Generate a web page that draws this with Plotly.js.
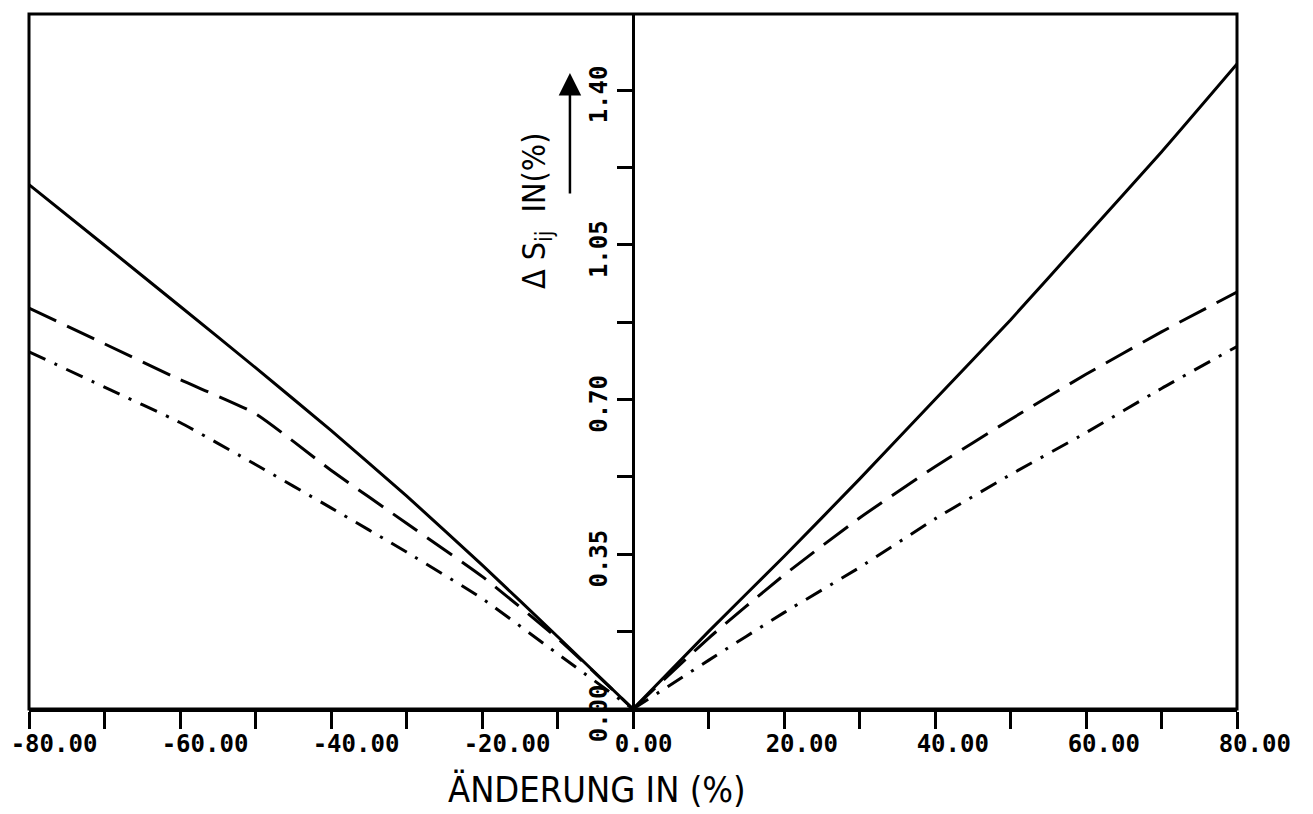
<!DOCTYPE html>
<html>
<head>
<meta charset="utf-8">
<script src="https://cdn.plot.ly/plotly-3.0.1.min.js"></script>
<style>html,body{margin:0;padding:0;background:#fff;}</style>
</head>
<body>
<div id="chart" style="width:1313px;height:814px;"></div>
<script>
// Data
const changePct = [-80, -70, -60, -50, -40, -30, -20, -10, 0, 10, 20, 30, 40, 50, 60, 70, 80];
const solidSeries   = [1.186, 1.049, 0.911, 0.772, 0.630, 0.482, 0.326, 0.164, 0, 0.175, 0.345, 0.52, 0.70, 0.88, 1.07, 1.26, 1.459];
const dashedSeries  = [0.907, 0.826, 0.745, 0.668, 0.54, 0.42, 0.30, 0.16, 0, 0.160, 0.303, 0.432, 0.548, 0.655, 0.757, 0.853, 0.943];
const dashdotSeries = [0.808, 0.728, 0.648, 0.553, 0.455, 0.355, 0.25, 0.125, 0, 0.11, 0.218, 0.32, 0.43, 0.53, 0.625, 0.725, 0.82];
const xTickVals = [-80, -60, -40, -20, 0, 20, 40, 60, 80];
const xTickText = ["-80.00", "-60.00", "-40.00", "-20.00", "0.00", "20.00", "40.00", "60.00", "80.00"];
const xMinorVals = [-70, -50, -30, -10, 10, 30, 50, 70];
const yTickVals = [0, 0.35, 0.70, 1.05, 1.40];
const yTickText = ["0.00", "0.35", "0.70", "1.05", "1.40"];
const yMinorVals = [0.175, 0.525, 0.875, 1.225];
const xTitle = "ÄNDERUNG IN (%)";
const yTitle = "Δ S<sub>ij</sub>  IN(%)";

const black = "#000";
// labels in the reference are left-aligned ~20px left of their tick: pad to equal width (monospace)
const xTickTextPadded = xTickText.map(t => t + "\u00a0".repeat(Math.max(0, 6 - t.length)));

const zeroIdx = changePct.indexOf(0);
function halves(series) {
  return [
    {x: changePct.slice(0, zeroIdx + 1), y: series.slice(0, zeroIdx + 1)},
    {x: changePct.slice(zeroIdx), y: series.slice(zeroIdx)}
  ];
}
const styles = [
  {series: solidSeries, dash: "solid"},
  {series: dashedSeries, dash: "30px,12px"},
  {series: dashdotSeries, dash: "18px,10px,3px,10px"}
];
const traces = [];
styles.forEach(s => {
  halves(s.series).forEach(h => {
    traces.push({x: h.x, y: h.y, mode: "lines",
      line: {color: black, width: 3, dash: s.dash, shape: "spline", smoothing: 0.5}});
  });
});

const tickFont = {family: "DejaVu Sans Mono, Liberation Mono, monospace", size: 24, color: black, weight: "bold"};
const titleFamily = "Liberation Sans Narrow, DejaVu Sans Condensed, Liberation Sans, sans-serif";

const layout = {
  width: 1313, height: 814,
  margin: {l: 29, r: 76, t: 14, b: 105, pad: 0},
  paper_bgcolor: "#fff", plot_bgcolor: "#fff",
  showlegend: false,
  xaxis: {
    range: [-80, 80], domain: [0, 1],
    showgrid: false, zeroline: false,
    showline: true, linecolor: black, linewidth: 3,
    ticks: "outside", ticklen: 17, tickwidth: 3, tickcolor: black,
    tickmode: "array", tickvals: xTickVals, ticktext: xTickTextPadded,
    minor: {tickmode: "array", tickvals: xMinorVals, ticks: "outside", ticklen: 17, tickwidth: 3, tickcolor: black, showgrid: false},
    tickfont: tickFont, ticklabelshift: 25, ticklabelstandoff: -6, ticklabeloverflow: "allow"
  },
  yaxis: {
    range: [0, 1.572], anchor: "free", position: 0.5,
    showgrid: false, zeroline: false,
    showline: true, linecolor: black, linewidth: 3,
    ticks: "outside", ticklen: 15, tickwidth: 3, tickcolor: black,
    tickmode: "array", tickvals: yTickVals, ticktext: yTickText,
    minor: {tickmode: "array", tickvals: yMinorVals, ticks: "outside", ticklen: 15, tickwidth: 3, tickcolor: black, showgrid: false},
    tickfont: tickFont, tickangle: -90, ticklabelshift: 8, ticklabelstandoff: 0, ticklabeloverflow: "allow"
  },
  shapes: [
    {type: "rect", xref: "paper", yref: "paper", x0: 0, x1: 1, y0: 0, y1: 1, line: {color: black, width: 3}}
  ],
  annotations: [
    {xref: "paper", yref: "paper", x: 0.470, y: -0.1165, xanchor: "center", yanchor: "middle",
     text: xTitle, showarrow: false, font: {family: titleFamily, size: 36, color: black}},
    {xref: "paper", yref: "paper", x: 0.4197, y: 0.7165, xanchor: "center", yanchor: "middle",
     text: yTitle, textangle: -90, showarrow: false, font: {family: titleFamily, size: 32, color: black}},
    {xref: "paper", yref: "paper", x: 0.4478, y: 0.915, ax: 0, ay: 122, axref: "pixel", ayref: "pixel",
     text: "", showarrow: true, arrowhead: 2, arrowsize: 1.8, arrowwidth: 2.5, arrowcolor: black}
  ]
};

Plotly.newPlot("chart", traces, layout, {staticPlot: true, displayModeBar: false});
</script>
</body>
</html>
